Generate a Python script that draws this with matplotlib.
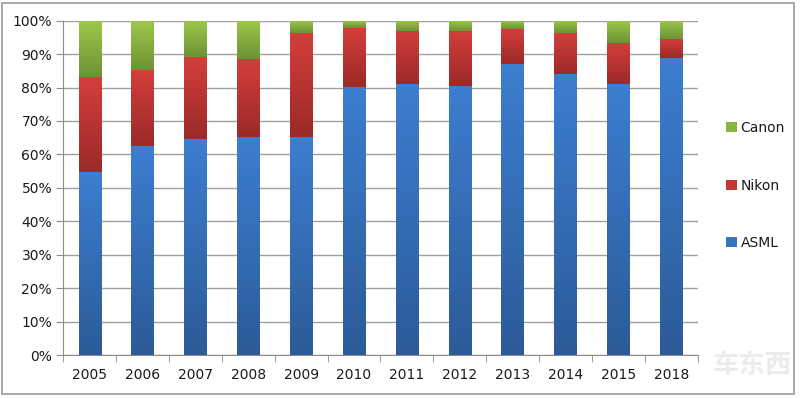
import numpy as np
import matplotlib.pyplot as plt
from matplotlib.patches import Rectangle
from matplotlib.colors import LinearSegmentedColormap
from matplotlib.ticker import PercentFormatter

years = ["2005", "2006", "2007", "2008", "2009", "2010",
         "2011", "2012", "2013", "2014", "2015", "2018"]
asml = [54.8, 62.6, 64.5, 65.1, 65.1, 80.3, 81.1, 80.6, 87.0, 84.1, 81.1, 88.8]
nikon = [28.4, 22.7, 24.5, 23.4, 31.1, 17.6, 15.9, 16.2, 10.5, 12.1, 12.1, 5.6]
canon = [100 - a - n for a, n in zip(asml, nikon)]

# (top colour, bottom colour, legend colour)
styles = {
    "ASML": ("#3c7ed0", "#2c5b98", "#3a72bd"),
    "Nikon": ("#d43e3b", "#9b2a28", "#c23634"),
    "Canon": ("#9dc84b", "#6d9334", "#8ab440"),
}

fig = plt.figure(figsize=(8, 3.98), dpi=100)
fig.patches.append(Rectangle((0.003, 0.01), 0.99, 0.982, transform=fig.transFigure,
                             fill=False, edgecolor="#a8a8a8", linewidth=1.4))
ax = fig.add_axes([0.079, 0.108, 0.793, 0.840])

x = np.arange(len(years))
width = 0.42
grad = np.linspace(1, 0, 64).reshape(-1, 1)

bottom = np.zeros(len(years))
handles = []
for name, vals in [("ASML", asml), ("Nikon", nikon), ("Canon", canon)]:
    top_c, bot_c, leg_c = styles[name]
    cmap = LinearSegmentedColormap.from_list(name, [bot_c, top_c])
    bars = ax.bar(x, vals, width, bottom=bottom, color=leg_c, label=name,
                  linewidth=0, zorder=2)
    for b in bars:
        x0, y0 = b.get_x(), b.get_y()
        ax.imshow(grad, cmap=cmap, aspect="auto", zorder=3,
                  extent=(x0, x0 + b.get_width(), y0, y0 + b.get_height()))
    handles.append(bars)
    bottom = bottom + np.array(vals)

ax.set_xlim(-0.5, len(years) - 0.5)
ax.set_ylim(0, 100)
ax.set_yticks(np.arange(0, 101, 10))
ax.yaxis.set_major_formatter(PercentFormatter(decimals=0))
ax.set_xticks(x)
ax.set_xticklabels(years)
ax.set_xticks(np.arange(-0.5, len(years), 1), minor=True)
ax.tick_params(axis="x", which="major", length=0, pad=9)
ax.tick_params(axis="x", which="minor", length=5, color="#8c8c8c", direction="out")
ax.tick_params(axis="y", length=5, color="#8c8c8c", direction="out", pad=3)
ax.tick_params(labelsize=10, labelcolor="#1a1a1a")
ax.grid(axis="y", color="#a0a0a0", linewidth=1.0, zorder=0)
ax.set_axisbelow(True)
for s in ["top", "right"]:
    ax.spines[s].set_visible(False)
for s in ["left", "bottom"]:
    ax.spines[s].set_color("#8c8c8c")

leg = fig.legend(handles[::-1], ["Canon", "Nikon", "ASML"], loc="upper left",
                 bbox_to_anchor=(0.892, 0.728), frameon=False, fontsize=10,
                 handlelength=0.75, handleheight=0.75, handletextpad=0.3,
                 labelspacing=3.15)
for t in leg.get_texts():
    t.set_color("#1a1a1a")

# faint watermark, bottom right
fig.text(0.99, 0.045, "车东西", fontsize=19, color="#ececec", ha="right",
         va="bottom", style="italic", fontweight="bold",
         family=["Noto Sans CJK SC", "DejaVu Sans"])

fig.savefig("out.png", dpi=100)
